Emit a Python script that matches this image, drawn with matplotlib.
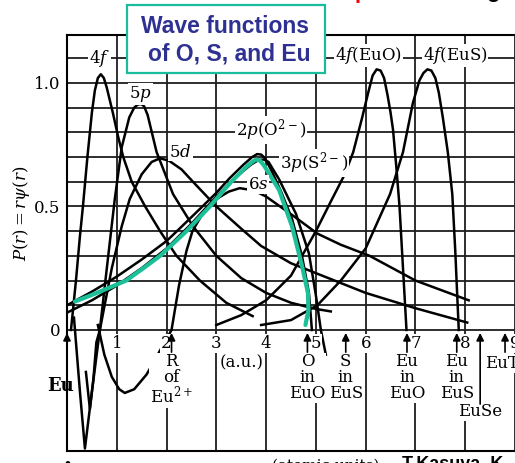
import numpy as np
import matplotlib.pyplot as plt
from matplotlib.patches import Rectangle

plt.rcParams['font.family'] = 'DejaVu Serif'
plt.rcParams['mathtext.fontset'] = 'dejavuserif'

# radial functions (r in a.u., P(r))
r_4f = [0.08, 0.18, 0.26, 0.32, 0.41, 0.50, 0.56, 0.62, 0.68, 0.74, 0.80, 0.92, 1.03, 1.13, 1.30, 1.57, 1.87, 2.20, 2.67, 3.20, 3.73]
p_4f = [0.00, 0.20, 0.38, 0.50, 0.70, 0.88, 0.97, 1.02, 1.035, 1.02, 0.98, 0.88, 0.78, 0.70, 0.60, 0.50, 0.40, 0.30, 0.20, 0.11, 0.056]

r_5p = [0.38, 0.46, 0.53, 0.59, 0.66, 0.80, 0.96, 1.10, 1.25, 1.35, 1.42, 1.49, 1.55, 1.62, 1.80, 2.13, 2.53, 3.00, 3.50, 4.00, 4.50, 5.00, 5.30]
p_5p = [-0.17, -0.32, -0.20, -0.05, 0.00, 0.25, 0.53, 0.74, 0.86, 0.90, 0.912, 0.915, 0.905, 0.87, 0.72, 0.55, 0.42, 0.30, 0.21, 0.15, 0.11, 0.085, 0.075]

r_5d = [0.14, 0.26, 0.36, 0.50, 0.66, 0.90, 1.10, 1.26, 1.50, 1.70, 1.87, 2.05, 2.30, 2.53, 3.00, 3.50, 3.90, 4.50, 5.00, 6.00, 7.00, 8.04]
p_5d = [0.05, -0.25, -0.48, -0.25, 0.00, 0.25, 0.42, 0.53, 0.63, 0.68, 0.695, 0.685, 0.65, 0.60, 0.50, 0.41, 0.34, 0.27, 0.23, 0.15, 0.088, 0.03]

r_6s = [0.62, 0.75, 0.90, 1.05, 1.16, 1.35, 1.60, 1.85, 2.10, 2.25, 2.40, 2.52, 2.75, 3.00, 3.25, 3.47, 3.75, 4.00, 4.56, 5.03, 5.50, 6.08, 7.00, 8.07]
p_6s = [0.02, -0.10, -0.19, -0.24, -0.255, -0.24, -0.18, -0.09, 0.00, 0.18, 0.32, 0.40, 0.48, 0.53, 0.56, 0.574, 0.565, 0.54, 0.46, 0.39, 0.345, 0.30, 0.20, 0.12]

r_2pO = [0.0, 0.5, 1.0, 1.5, 2.0, 2.26, 2.67, 3.0, 3.27, 3.55, 3.72, 3.82, 3.90, 3.98, 4.12, 4.30, 4.52, 4.72, 4.86, 4.92]
p_2pO = [0.10, 0.155, 0.216, 0.285, 0.36, 0.41, 0.49, 0.555, 0.615, 0.67, 0.70, 0.712, 0.71, 0.695, 0.64, 0.56, 0.45, 0.30, 0.15, 0.0]

r_3pS = [0.0, 0.5, 1.0, 1.5, 2.0, 2.5, 3.0, 3.4, 3.7, 3.85, 3.95, 4.05, 4.26, 4.6, 4.86, 5.0, 5.1, 5.2]
p_3pS = [0.07, 0.12, 0.18, 0.25, 0.33, 0.43, 0.54, 0.62, 0.67, 0.688, 0.69, 0.68, 0.61, 0.47, 0.31, 0.14, 0.0, -0.10]

r_4fEuO = [3.0, 3.5, 4.0, 4.5, 5.0, 5.3, 5.58, 5.75, 5.93, 6.05, 6.14, 6.22, 6.30, 6.37, 6.44, 6.50, 6.55, 6.62, 6.68, 6.75, 6.82]
p_4fEuO = [0.02, 0.06, 0.12, 0.22, 0.40, 0.52, 0.63, 0.72, 0.86, 0.96, 1.03, 1.055, 1.05, 1.02, 0.95, 0.88, 0.81, 0.65, 0.50, 0.25, 0.0]

r_4fEuS = [3.9, 4.5, 5.03, 5.5, 6.0, 6.49, 6.75, 6.95, 7.08, 7.16, 7.24, 7.32, 7.40, 7.47, 7.55, 7.65, 7.74, 7.8, 7.87]
p_4fEuS = [0.02, 0.04, 0.10, 0.20, 0.33, 0.55, 0.72, 0.92, 1.01, 1.04, 1.055, 1.05, 1.02, 0.96, 0.86, 0.72, 0.55, 0.32, 0.0]

# highlighted overlay (green)
r_hl = [0.16, 0.6, 1.19, 1.5, 1.87, 2.4, 2.87, 3.3, 3.6, 3.72, 3.80, 3.88, 3.96, 4.1, 4.26, 4.52, 4.72, 4.84, 4.85, 4.79]
p_hl = [0.115, 0.15, 0.20, 0.245, 0.30, 0.40, 0.50, 0.60, 0.66, 0.68, 0.69, 0.685, 0.665, 0.62, 0.567, 0.42, 0.26, 0.15, 0.08, 0.02]

ytick_pos = [0.0, 0.1, 0.2, 0.3, 0.4, 0.5, 0.6, 0.7, 0.8, 0.9, 1.0, 1.1]
ytick_lab = ['0', '', '', '', '', '0.5', '', '', '', '', '1.0', '']
xtick_pos = [1, 2, 3, 4, 5, 6, 7, 8, 9]
xtick_lab = ['1', '2', '3', '4', '5', '6', '7', '8', '9']

# curve labels: text, r, P
curve_lab = [r'4$f$', r'5$p$', r'5$d$', r'2$p$(O$^{2-}$)', r'3$p$(S$^{2-}$)', r'6$s$', r'4$f$(EuO)', r'4$f$(EuS)']
curve_lab_r = [0.66, 1.48, 2.28, 4.1, 4.96, 3.84, 6.06, 7.8]
curve_lab_p = [1.10, 0.955, 0.72, 0.81, 0.675, 0.59, 1.11, 1.11]

# atom positions marked with arrows
site_r = [2.1, 4.83, 5.6, 6.83, 7.83]
site_lab = ['R\nof\nEu$^{2+}$', 'O\nin\nEuO', 'S\nin\nEuS', 'Eu\nin\nEuO', 'Eu\nin\nEuS']

W, H = 515, 463
fig = plt.figure(figsize=(W / 100, H / 100), dpi=100)
ax = fig.add_axes([67 / W, 12 / H, 448 / W, 416 / H])
ax.set_xlim(0, 8.96)
ax.set_ylim(-0.49, 1.194)

for s in ['left', 'top', 'bottom']:
    ax.spines[s].set_linewidth(1.5)
ax.spines['right'].set_visible(False)

ax.set_yticks(ytick_pos)
ax.set_yticklabels(ytick_lab)
ax.set_xticks(range(0, 10))
ax.tick_params(length=0, labelsize=12, pad=5)
ax.tick_params(axis='x', labelbottom=False)
ax.set_axisbelow(True)
ax.grid(True, color='#1e1e1e', lw=1.3)

for r, p in [(r_4f, p_4f), (r_5p, p_5p), (r_5d, p_5d), (r_6s, p_6s),
             (r_2pO, p_2pO), (r_3pS, p_3pS), (r_4fEuO, p_4fEuO), (r_4fEuS, p_4fEuS)]:
    ax.plot(r, p, color='k', lw=1.8, solid_joinstyle='round', zorder=2)
ax.plot(r_hl, p_hl, color='#1bbf98', lw=3, solid_capstyle='round', solid_joinstyle='round', zorder=3)

wb = dict(facecolor='white', edgecolor='none', pad=0.6)
for t, x, y in zip(curve_lab, curve_lab_r, curve_lab_p):
    ax.text(x, y, t, fontsize=12, ha='center', va='center', bbox=wb, zorder=4)

for t, x in zip(xtick_lab, xtick_pos):
    ax.text(x, -0.055, t, fontsize=12, ha='center', va='center', bbox=wb, zorder=4, clip_on=False)

ax.text(3.5, -0.135, '(a.u.)', fontsize=12, ha='center', va='center', bbox=wb, zorder=4)

arrow = dict(arrowstyle='-|>', color='k', lw=1.2, mutation_scale=11, shrinkA=0, shrinkB=0)
for x, t in zip(site_r, site_lab):
    ax.annotate('', xy=(x, -0.012), xytext=(x, -0.09), arrowprops=arrow, zorder=5)
    ax.text(x, -0.095, t, fontsize=12, ha='center', va='top', linespacing=0.92, bbox=wb, zorder=4)

ax.annotate('', xy=(0.0, -0.012), xytext=(0.0, -0.2), arrowprops=arrow, zorder=5)
ax.text(-0.13, -0.225, 'Eu', fontsize=13, fontweight='bold', ha='center', va='center', clip_on=False)

ax.annotate('', xy=(8.3, -0.012), xytext=(8.3, -0.3), arrowprops=arrow, zorder=5)
ax.text(8.3, -0.33, 'EuSe', fontsize=12, ha='center', va='center', bbox=wb, zorder=4)
ax.annotate('', xy=(8.8, -0.012), xytext=(8.8, -0.09), arrowprops=arrow, zorder=5)
ax.text(8.4, -0.135, 'EuTe', fontsize=12, ha='left', va='center', bbox=wb, zorder=4, clip_on=False)

fig.text(22 / W, 1 - 213 / H, r'$P(r)=r\psi(r)$', rotation=90, ha='center', va='center', fontsize=12)

# title box
fig.add_artist(Rectangle((127 / W, 1 - 73 / H), 198 / W, 68 / H, transform=fig.transFigure,
                         facecolor='white', edgecolor='#1abc9c', lw=1.6, zorder=10))
tc = '#2e3192'
fig.text(225 / W, 1 - 33 / H, 'Wave functions', fontsize=16.5, fontweight='bold', color=tc,
         family='Liberation Sans', ha='center', va='baseline', zorder=11)
fig.text(229 / W, 1 - 61 / H, 'of O, S, and Eu', fontsize=16.5, fontweight='bold', color=tc,
         family='Liberation Sans', ha='center', va='baseline', zorder=11)

# cropped bits at the edges of the slide
fig.text(355 / W, 1 + 2 / H, 'p', fontsize=16, fontweight='bold', color='red',
         family='Liberation Sans', ha='left', va='baseline')
fig.text(486 / W, 1 + 3 / H, 'g', fontsize=16, fontweight='bold', color='k',
         family='Liberation Sans', ha='left', va='baseline')
fig.text(272 / W, 1 - 470 / H, '(atomic units)', fontsize=11, ha='left', va='baseline')
fig.text(402 / W, 1 - 469 / H, 'T.Kasuya, K', fontsize=13, fontweight='bold',
         family='Liberation Sans', ha='left', va='baseline')
fig.text(67 / W, 1 - 466 / H, '•', fontsize=12, ha='center', va='center')

fig.savefig('out.png', dpi=100)
